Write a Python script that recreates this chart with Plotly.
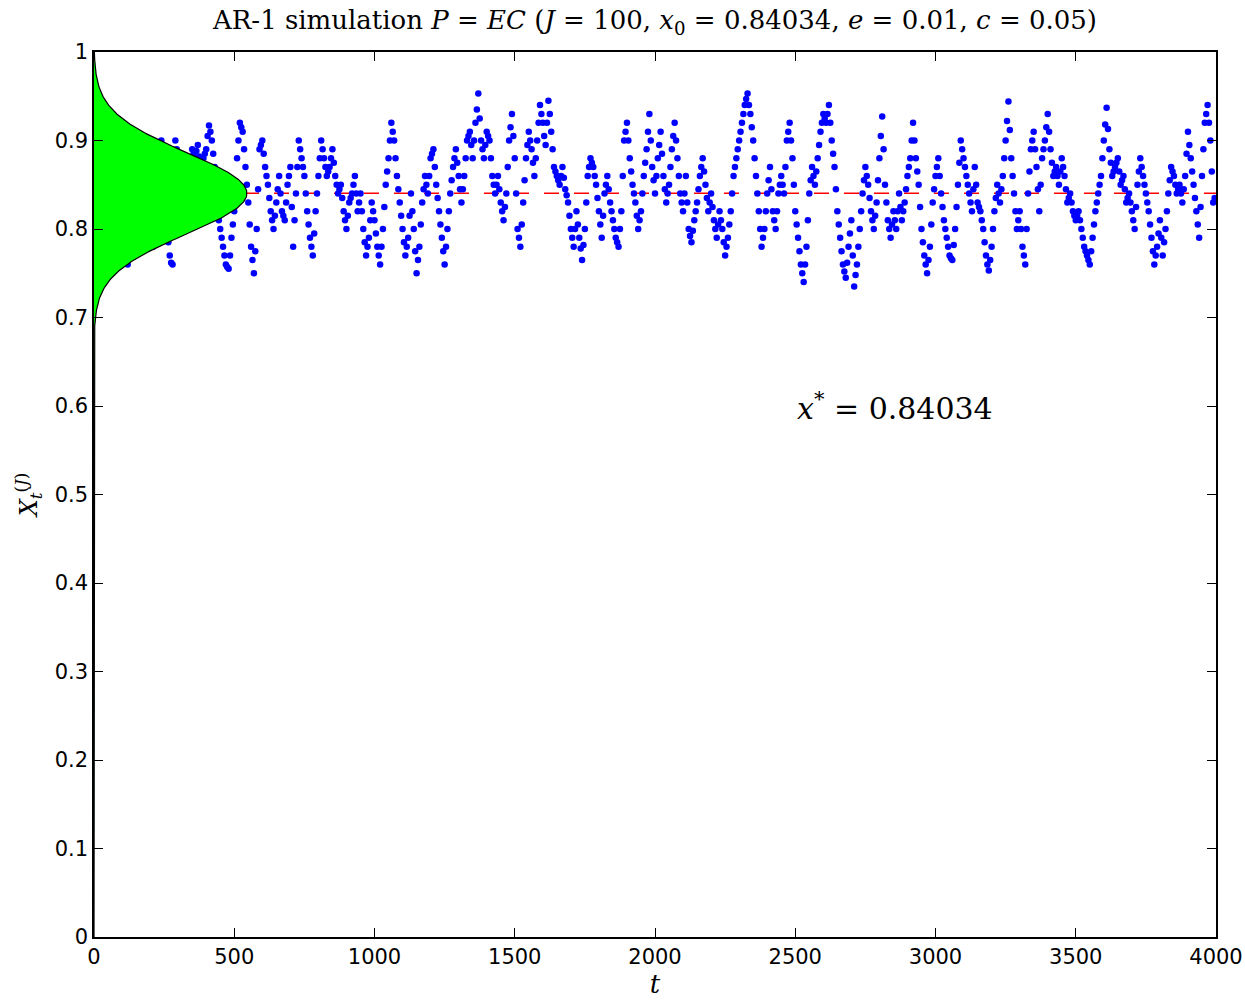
import numpy as np
import plotly.graph_objects as go

# ---- data (one value every 5 time steps) ----
t_step = 5
x_values = [
    # 0-500
    0.840, 0.842, 0.835, 0.828, 0.820, 0.815, 0.810, 0.805, 0.800, 0.795,
    0.790, 0.795, 0.800, 0.812, 0.820, 0.808, 0.800, 0.796, 0.790, 0.782,
    0.775, 0.770, 0.765, 0.762, 0.760, 0.770, 0.780, 0.790, 0.800, 0.810,
    0.820, 0.830, 0.840, 0.850, 0.860, 0.856, 0.850, 0.835, 0.820, 0.810,
    0.800, 0.790, 0.780, 0.805, 0.830, 0.850, 0.870, 0.885, 0.900, 0.890,
    0.870, 0.835, 0.800, 0.785, 0.770, 0.762, 0.760, 0.830, 0.900, 0.890,
    0.880, 0.840, 0.800, 0.798, 0.800, 0.820, 0.840, 0.855, 0.870, 0.880,
    0.890, 0.885, 0.880, 0.888, 0.895, 0.882, 0.870, 0.875, 0.880, 0.885,
    0.890, 0.905, 0.917, 0.910, 0.900, 0.885, 0.870, 0.845, 0.820, 0.810,
    0.800, 0.790, 0.780, 0.770, 0.760, 0.757, 0.755, 0.770, 0.790, 0.805,
    # 500-1000
    0.820, 0.850, 0.880, 0.900, 0.920, 0.915, 0.910, 0.890, 0.870, 0.850,
    0.830, 0.805, 0.780, 0.765, 0.750, 0.775, 0.800, 0.845, 0.890, 0.895,
    0.900, 0.885, 0.870, 0.860, 0.850, 0.835, 0.820, 0.810, 0.800, 0.815,
    0.830, 0.845, 0.860, 0.840, 0.820, 0.815, 0.810, 0.830, 0.850, 0.860,
    0.870, 0.825, 0.780, 0.810, 0.840, 0.870, 0.900, 0.890, 0.880, 0.870,
    0.860, 0.840, 0.820, 0.805, 0.790, 0.780, 0.770, 0.795, 0.820, 0.840,
    0.860, 0.880, 0.900, 0.890, 0.880, 0.870, 0.860, 0.865, 0.870, 0.880,
    0.890, 0.875, 0.860, 0.850, 0.840, 0.845, 0.850, 0.835, 0.820, 0.810,
    0.800, 0.815, 0.830, 0.835, 0.840, 0.850, 0.860, 0.840, 0.820, 0.830,
    0.840, 0.820, 0.800, 0.785, 0.770, 0.780, 0.790, 0.810, 0.830, 0.820,
    # 1000-1500
    0.810, 0.795, 0.780, 0.770, 0.760, 0.780, 0.800, 0.825, 0.850, 0.865,
    0.880, 0.900, 0.920, 0.910, 0.900, 0.880, 0.860, 0.845, 0.830, 0.815,
    0.800, 0.785, 0.770, 0.780, 0.790, 0.815, 0.840, 0.820, 0.800, 0.775,
    0.750, 0.765, 0.780, 0.805, 0.830, 0.845, 0.860, 0.850, 0.840, 0.860,
    0.880, 0.885, 0.890, 0.870, 0.850, 0.835, 0.820, 0.805, 0.790, 0.775,
    0.760, 0.780, 0.800, 0.820, 0.840, 0.855, 0.870, 0.880, 0.890, 0.875,
    0.860, 0.845, 0.830, 0.845, 0.860, 0.880, 0.900, 0.905, 0.910, 0.895,
    0.880, 0.900, 0.920, 0.935, 0.953, 0.925, 0.900, 0.890, 0.880, 0.895,
    0.910, 0.905, 0.900, 0.880, 0.860, 0.850, 0.840, 0.850, 0.860, 0.845,
    0.830, 0.820, 0.810, 0.825, 0.840, 0.870, 0.900, 0.915, 0.930, 0.905,
    # 1500-2000
    0.880, 0.840, 0.800, 0.790, 0.780, 0.805, 0.830, 0.855, 0.880, 0.895,
    0.910, 0.900, 0.890, 0.875, 0.860, 0.880, 0.900, 0.920, 0.940, 0.930,
    0.920, 0.905, 0.895, 0.920, 0.945, 0.930, 0.910, 0.890, 0.870, 0.865,
    0.860, 0.855, 0.850, 0.860, 0.870, 0.858, 0.845, 0.838, 0.830, 0.815,
    0.800, 0.790, 0.780, 0.800, 0.820, 0.805, 0.790, 0.778, 0.765, 0.782,
    0.800, 0.830, 0.860, 0.870, 0.880, 0.875, 0.870, 0.860, 0.850, 0.835,
    0.820, 0.805, 0.790, 0.815, 0.840, 0.850, 0.860, 0.845, 0.830, 0.820,
    0.810, 0.800, 0.790, 0.785, 0.780, 0.800, 0.820, 0.860, 0.900, 0.910,
    0.920, 0.900, 0.880, 0.865, 0.850, 0.840, 0.830, 0.815, 0.800, 0.810,
    0.820, 0.840, 0.860, 0.875, 0.890, 0.910, 0.930, 0.900, 0.870, 0.855,
    # 2000-2500
    0.840, 0.860, 0.880, 0.895, 0.910, 0.885, 0.860, 0.845, 0.830, 0.840,
    0.850, 0.870, 0.890, 0.905, 0.920, 0.900, 0.880, 0.860, 0.840, 0.830,
    0.820, 0.840, 0.860, 0.830, 0.800, 0.792, 0.785, 0.798, 0.810, 0.820,
    0.830, 0.845, 0.860, 0.870, 0.880, 0.865, 0.850, 0.835, 0.820, 0.830,
    0.840, 0.825, 0.810, 0.800, 0.790, 0.805, 0.820, 0.810, 0.800, 0.785,
    0.770, 0.780, 0.790, 0.805, 0.820, 0.840, 0.860, 0.870, 0.880, 0.890,
    0.900, 0.910, 0.920, 0.930, 0.940, 0.947, 0.953, 0.940, 0.930, 0.915,
    0.900, 0.880, 0.860, 0.840, 0.820, 0.800, 0.780, 0.790, 0.800, 0.820,
    0.840, 0.855, 0.870, 0.845, 0.820, 0.810, 0.800, 0.820, 0.840, 0.850,
    0.860, 0.850, 0.840, 0.870, 0.900, 0.910, 0.920, 0.900, 0.880, 0.850,
    # 2500-3000
    0.820, 0.805, 0.790, 0.775, 0.760, 0.750, 0.740, 0.760, 0.780, 0.810,
    0.840, 0.855, 0.870, 0.860, 0.850, 0.865, 0.880, 0.895, 0.910, 0.920,
    0.930, 0.925, 0.920, 0.930, 0.940, 0.920, 0.900, 0.885, 0.870, 0.845,
    0.820, 0.805, 0.790, 0.775, 0.760, 0.752, 0.745, 0.762, 0.780, 0.795,
    0.810, 0.770, 0.735, 0.748, 0.760, 0.780, 0.800, 0.820, 0.840, 0.855,
    0.870, 0.860, 0.850, 0.835, 0.820, 0.810, 0.800, 0.815, 0.830, 0.855,
    0.880, 0.905, 0.927, 0.890, 0.850, 0.830, 0.810, 0.800, 0.790, 0.805,
    0.820, 0.810, 0.800, 0.820, 0.840, 0.825, 0.810, 0.820, 0.830, 0.845,
    0.860, 0.870, 0.880, 0.900, 0.920, 0.900, 0.880, 0.865, 0.850, 0.825,
    0.800, 0.785, 0.770, 0.760, 0.750, 0.765, 0.780, 0.805, 0.830, 0.845,
    # 3000-3500
    0.860, 0.870, 0.880, 0.860, 0.840, 0.825, 0.810, 0.800, 0.790, 0.780,
    0.770, 0.767, 0.765, 0.782, 0.800, 0.825, 0.850, 0.875, 0.900, 0.890,
    0.880, 0.870, 0.860, 0.850, 0.840, 0.830, 0.820, 0.845, 0.870, 0.850,
    0.830, 0.825, 0.820, 0.810, 0.800, 0.785, 0.770, 0.760, 0.753, 0.765,
    0.780, 0.800, 0.820, 0.835, 0.850, 0.840, 0.830, 0.845, 0.860, 0.880,
    0.900, 0.922, 0.944, 0.912, 0.880, 0.860, 0.840, 0.820, 0.800, 0.810,
    0.820, 0.800, 0.780, 0.770, 0.760, 0.800, 0.840, 0.865, 0.890, 0.900,
    0.910, 0.890, 0.870, 0.845, 0.820, 0.850, 0.880, 0.890, 0.900, 0.915,
    0.930, 0.910, 0.890, 0.875, 0.860, 0.865, 0.870, 0.860, 0.850, 0.865,
    0.880, 0.870, 0.860, 0.845, 0.830, 0.835, 0.840, 0.830, 0.820, 0.815,
    # 3500-4000
    0.810, 0.815, 0.820, 0.810, 0.800, 0.790, 0.780, 0.775, 0.770, 0.765,
    0.760, 0.775, 0.790, 0.805, 0.820, 0.830, 0.840, 0.850, 0.860, 0.880,
    0.900, 0.918, 0.937, 0.913, 0.890, 0.875, 0.860, 0.865, 0.870, 0.875,
    0.880, 0.865, 0.850, 0.855, 0.860, 0.845, 0.830, 0.835, 0.840, 0.830,
    0.820, 0.810, 0.800, 0.825, 0.850, 0.865, 0.880, 0.870, 0.860, 0.850,
    0.840, 0.830, 0.820, 0.805, 0.790, 0.775, 0.760, 0.770, 0.780, 0.795,
    0.810, 0.790, 0.770, 0.785, 0.800, 0.820, 0.840, 0.855, 0.870, 0.865,
    0.860, 0.850, 0.840, 0.845, 0.850, 0.840, 0.830, 0.845, 0.860, 0.885,
    0.910, 0.895, 0.880, 0.865, 0.850, 0.835, 0.820, 0.805, 0.790, 0.825,
    0.860, 0.890, 0.920, 0.930, 0.940, 0.920, 0.900, 0.865, 0.830, 0.835,
]
t_values = [i * t_step for i in range(len(x_values))]

x_star = 0.84034          # fixed point (red dashed line)
dens_sigma = 0.046        # spread of the stationary density
dens_peak = 545           # peak height of the density curve in t units

x_ticks = [0, 500, 1000, 1500, 2000, 2500, 3000, 3500, 4000]
y_ticks = [0, 0.1, 0.2, 0.3, 0.4, 0.5, 0.6, 0.7, 0.8, 0.9, 1]
y_tick_text = ["0", "0.1", "0.2", "0.3", "0.4", "0.5", "0.6", "0.7", "0.8", "0.9", "1"]

# stationary normal density, drawn sideways
dens_y = np.linspace(0, 1, 801)
dens_x = dens_peak * np.exp(-(dens_y - x_star) ** 2 / (2 * dens_sigma ** 2))

serif = "DejaVu Serif, serif"
sans = "DejaVu Sans, sans-serif"

fig = go.Figure()
fig.add_trace(go.Scatter(x=[0, 4000], y=[x_star, x_star], mode="lines",
                         line=dict(color="#ff0000", width=1.6, dash="15px,15px"),
                         hoverinfo="skip"))
fig.add_trace(go.Scatter(x=t_values, y=x_values, mode="markers",
                         marker=dict(color="#0000ff", size=6.5, line=dict(width=0))))
fig.add_trace(go.Scatter(x=dens_x, y=dens_y, mode="lines", fill="tozerox",
                         fillcolor="#00ff00", line=dict(color="black", width=1.2)))

fig.add_annotation(x=2500, y=0.6, xref="x", yref="y", xanchor="left", yanchor="middle",
                   text="<i>x</i><sup>*</sup> = 0.84034", showarrow=False,
                   font=dict(family=serif, size=30, color="black"))

fig.update_layout(
    width=1245, height=1000,
    margin=dict(l=94, r=29, t=52, b=63),
    paper_bgcolor="white", plot_bgcolor="white",
    showlegend=False,
    title=dict(text="AR-1 simulation <i>P</i> = <i>EC</i> (<i>J</i> = 100, <i>x</i><sub>0</sub> = 0.84034, "
                    "<i>e</i> = 0.01, <i>c</i> = 0.05)",
               x=0.5, xref="paper", xanchor="center", y=0.98, yanchor="middle",
               font=dict(family=serif, size=26, color="black")),
)
fig.update_xaxes(range=[0, 4000], tickvals=x_ticks, ticktext=[str(v) for v in x_ticks],
                 ticks="inside", ticklen=9, tickcolor="black", mirror="ticks", automargin=False,
                 showline=True, linecolor="black", linewidth=1.5, showgrid=False, zeroline=False,
                 tickfont=dict(family=sans, size=21, color="black"),
                 title=dict(text="<i>t</i>", font=dict(family=serif, size=26, color="black"), standoff=6))
fig.update_yaxes(range=[0, 1], tickvals=y_ticks, ticktext=y_tick_text,
                 ticks="inside", ticklen=9, tickcolor="black", mirror="ticks", automargin=False,
                 showline=True, linecolor="black", linewidth=1.5, showgrid=False, zeroline=False,
                 tickfont=dict(family=sans, size=21, color="black"),
                 title=dict(text="<i>X</i><sub><i>t</i></sub><sup>(<i>J</i>)</sup>",
                            font=dict(family=serif, size=24, color="black"), standoff=10))

fig.write_html("out.html")
